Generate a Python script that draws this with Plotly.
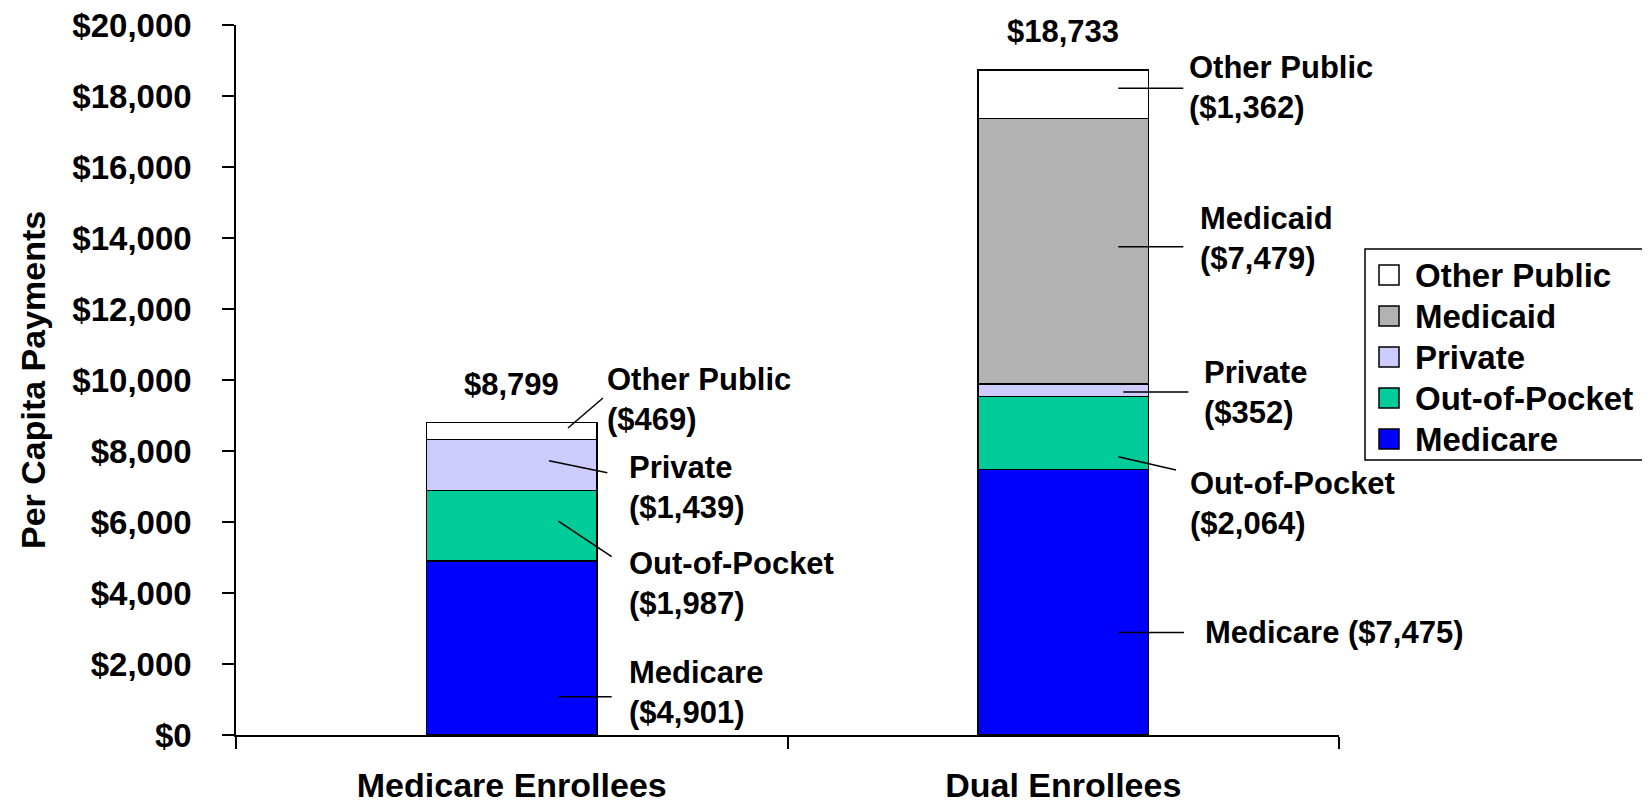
import plotly.graph_objects as go

# ---- data ----
categories = ["Medicare Enrollees", "Dual Enrollees"]
series_names = ["Medicare", "Out-of-Pocket", "Private", "Medicaid", "Other Public"]
medicare = [4901, 7475]
out_of_pocket = [1987, 2064]
private = [1439, 352]
medicaid = [0, 7479]
other_public = [469, 1362]
totals = [8799, 18733]
y_ticks = list(range(0, 20001, 2000))
y_tick_labels = [f"${v:,}" for v in y_ticks]

series_values = [medicare, out_of_pocket, private, medicaid, other_public]
colors = ["#0000FF", "#00CC99", "#CCCCFF", "#B2B2B2", "#FFFFFF"]

FONT = "Liberation Sans, Arial, sans-serif"

# the page body adds an 8px offset; size the figure so the plot lands where the reference has it
W, H = 1642, 795
ML, MR, MT, MB = 228, 311, 17, 68
PW, PH = W - ML - MR, H - MT - MB


def px_x(p):  # screen px (reference) -> paper x
    return (p - 236) / PW


def px_y(p):  # screen px (reference) -> paper y
    return (735 - p) / PH


fig = go.Figure()
for name, vals, col in zip(series_names, series_values, colors):
    fig.add_trace(go.Bar(
        x=categories, y=vals, name=name, width=0.31,
        marker=dict(color=col, line=dict(color="black", width=1.5)),
        hoverinfo="x+y+name", showlegend=False,
    ))

# ---- segment labels: (category index, text, line start (dx,y), line end (dx,y), text anchor (dx,y)) ----
label_specs = [
    (0, "Other Public<br>($469)", (0.102, 8648), (0.1655, 9493), (0.169, 9361)),
    (0, "Private<br>($1,439)", (0.0675, 7727), (0.1733, 7389), (0.2084, 6879)),
    (0, "Out-of-Pocket<br>($1,987)", (0.0844, 6028), (0.1812, 5023), (0.2084, 4197)),
    (0, "Medicare<br>($4,901)", (0.0844, 1079), (0.1812, 1079), (0.2084, 1099)),
    (1, "Other Public<br>($1,362)", (0.0998, 18217), (0.2177, 18217), (0.2238, 18146)),
    (1, "Medicaid<br>($7,479)", (0.0998, 13755), (0.2177, 13755), (0.2449, 13907)),
    (1, "Private<br>($352)", (0.1089, 9662), (0.2268, 9662), (0.2510, 9566)),
    (1, "Out-of-Pocket<br>($2,064)", (0.0998, 7839), (0.2045, 7465), (0.2268, 6423)),
    (1, "Medicare ($7,475)", (0.1004, 2887), (0.2189, 2887), (0.2534, 2887)),
]

annotations = []
shapes = []
for ci, text, p0, p1, pt in label_specs:
    shapes.append(dict(type="line", xref="x", yref="y",
                       x0=ci + p0[0], y0=p0[1], x1=ci + p1[0], y1=p1[1],
                       line=dict(color="black", width=1.5)))
    annotations.append(dict(xref="x", yref="y", x=ci + pt[0], y=pt[1],
                            text=text, showarrow=False, xanchor="left", yanchor="middle",
                            align="left", yshift=3 if "<br>" in text else 0,
                            font=dict(family=FONT, size=31, color="black", weight="bold")))

for i, t in enumerate(totals):
    annotations.append(dict(xref="x", yref="y", x=i, y=t, text=f"${t:,}",
                            showarrow=False, xanchor="center", yanchor="bottom", yshift=19,
                            font=dict(family=FONT, size=31, color="black", weight="bold")))

annotations.append(dict(xref="paper", yref="paper", x=px_x(33), y=0.5, text="Per Capita Payments",
                        textangle=-90, showarrow=False, xanchor="center", yanchor="middle",
                        font=dict(family=FONT, size=34, color="black", weight="bold")))

# ---- legend box (top to bottom: reversed stacking order) ----
shapes.append(dict(type="rect", xref="paper", yref="paper",
                   x0=px_x(1365), x1=px_x(1645), y0=px_y(460), y1=px_y(249),
                   line=dict(color="black", width=1.5), fillcolor="white", layer="above"))
leg_names = series_names[::-1]
leg_colors = colors[::-1]
for k, (nm, col) in enumerate(zip(leg_names, leg_colors)):
    cy = 275 + 41 * k
    shapes.append(dict(type="rect", xref="paper", yref="paper",
                       x0=px_x(1379), x1=px_x(1399), y0=px_y(cy + 10), y1=px_y(cy - 10),
                       line=dict(color="black", width=1.5), fillcolor=col, layer="above"))
    annotations.append(dict(xref="paper", yref="paper", x=px_x(1413), y=px_y(cy),
                            text=nm, showarrow=False, xanchor="left", yanchor="middle",
                            font=dict(family=FONT, size=33, color="black", weight="bold")))

fig.update_layout(
    barmode="stack",
    width=W, height=H,
    margin=dict(l=ML, r=MR, t=MT, b=MB, autoexpand=False),
    paper_bgcolor="white", plot_bgcolor="white",
    font=dict(family=FONT, color="black"),
    showlegend=False,
    annotations=annotations,
    shapes=shapes,
)

fig.update_yaxes(
    range=[0, 20000], tickvals=y_ticks, ticktext=y_tick_labels,
    showgrid=False, zeroline=False,
    showline=True, linecolor="black", linewidth=1.5,
    ticks="outside", ticklen=12, tickwidth=1.5, tickcolor="black",
    ticklabelstandoff=24, automargin=False, ticklabeloverflow="allow",
    tickfont=dict(family=FONT, size=33, color="black", weight="bold"),
)
fig.update_xaxes(
    type="category", range=[-0.5, 1.5],
    showgrid=False, zeroline=False,
    showline=True, linecolor="black", linewidth=1.5,
    ticks="outside", tickson="boundaries", ticklen=12, tickwidth=1.5, tickcolor="black",
    ticklabelstandoff=19, automargin=False, ticklabeloverflow="allow",
    tickfont=dict(family=FONT, size=34, color="black", weight="bold"),
)

fig.write_html("out.html")
